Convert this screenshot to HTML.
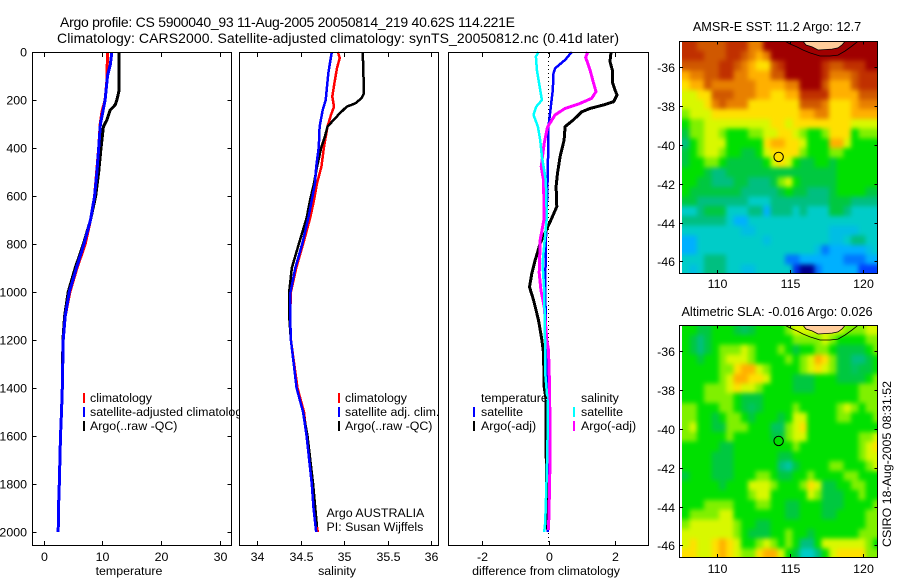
<!DOCTYPE html>
<html lang="en">
<head>
<meta charset="utf-8">
<title>Argo profile CS 5900040_93</title>
<style>
html,body{margin:0;padding:0;background:#fff;width:900px;height:580px;overflow:hidden}
svg{display:block}
text{font-family:"Liberation Sans",sans-serif;font-size:12.4px;fill:#000}
.title{font-size:14px}
.maptitle{font-size:12.7px}
.frame{fill:none;stroke:#000;stroke-width:1;shape-rendering:crispEdges}
</style>
</head>
<body>
<svg id="fig" xmlns="http://www.w3.org/2000/svg" width="900" height="580" viewBox="0 0 900 580">
  <defs>
    <filter id="mapSmooth" filterUnits="userSpaceOnUse" x="640" y="0" width="260" height="580" color-interpolation-filters="sRGB">
      <feGaussianBlur stdDeviation="2.4"/>
    </filter>
  </defs>
  <text class="title" x="60" y="27" textLength="455">Argo profile: CS 5900040_93 11-Aug-2005 20050814_219 40.62S 114.221E</text>
  <text class="title" x="57" y="43" textLength="562">Climatology: CARS2000. Satellite-adjusted climatology: synTS_20050812.nc (0.41d later)</text>
  <g id="p1">
    <rect x="32.5" y="52.5" width="199" height="493" fill="#fff"/>
  </g>
  <g id="p1legend">
    <rect x="83" y="393" width="2" height="10" fill="#f00"/>
    <rect x="83" y="407" width="2" height="10" fill="#00f"/>
    <rect x="83" y="421" width="2" height="10" fill="#000"/>
    <text x="90" y="402">climatology</text>
    <text x="90" y="416">satellite-adjusted climatology</text>
    <text x="90" y="430">Argo(..raw -QC)</text>
  </g>
  <g id="p2">
    <rect x="239.5" y="52.5" width="199" height="493" fill="#fff"/>
  </g>
  <g id="p2legend">
    <rect x="338" y="393" width="2" height="10" fill="#f00"/>
    <rect x="338" y="407" width="2" height="10" fill="#00f"/>
    <rect x="338" y="421" width="2" height="10" fill="#000"/>
    <text x="345" y="402">climatology</text>
    <text x="345" y="416">satellite adj. clim.</text>
    <text x="345" y="430">Argo(..raw -QC)</text>
    <text x="326.5" y="517">Argo AUSTRALIA</text>
    <text x="326.5" y="531">PI: Susan Wijffels</text>
  </g>
  <g id="p3">
    <rect x="448.5" y="52.5" width="200" height="493" fill="#fff"/>
  </g>
  <g id="p3legend">
    <text x="481" y="402">temperature</text>
    <rect x="473" y="407" width="2" height="10" fill="#00f"/>
    <rect x="473" y="421" width="2" height="10" fill="#000"/>
    <text x="481" y="416">satellite</text>
    <text x="481" y="430">Argo(-adj)</text>
    <text x="581" y="402">salinity</text>
    <rect x="573" y="407" width="2" height="10" fill="#0ff"/>
    <rect x="573" y="421" width="2" height="10" fill="#f0f"/>
    <text x="581" y="416">satellite</text>
    <text x="581" y="430">Argo(-adj)</text>
  </g>
  <text x="129" y="575" text-anchor="middle">temperature</text>
  <text x="337" y="575" text-anchor="middle">salinity</text>
  <text x="546" y="575" text-anchor="middle">difference from climatology</text>
  <text class="maptitle" x="777" y="31" text-anchor="middle">AMSR-E SST: 11.2 Argo: 12.7</text>
  <text class="maptitle" x="777" y="316" text-anchor="middle">Altimetric SLA: -0.016 Argo: 0.026</text>
  <g id="m1"></g>
  <g id="m2"></g>
  <text transform="translate(891,547) rotate(-90)">CSIRO 18-Aug-2005 08:31:52</text>
</svg>
<script>
// ---- profile data ----
const tempDepthTicks = [0,200,400,600,800,1000,1200,1400,1600,1800,2000];
const tempTicks = [0,10,20,30];
const salTicks = [34,34.5,35,35.5,36];
const salTickLabels = ['34','34.5','35','35.5','36'];
const diffTicks = [-2,0,2];

const tempClimDepth = [0,120,200,250,300,400,600,700,800,900,1000,1100,1200,1400,1500,1600,1800,1900,2000];
const tempClimValue = [10.9,10.8,10.5,9.95,9.66,9.4,8.7,8.0,7.1,5.7,4.5,3.7,3.35,3.2,3.07,2.9,2.7,2.55,2.5];
const tempSatDepth = [0,50,100,200,250,300,400,500,600,700,800,900,1000,1100,1200,1400,1500,1600,1800,1900,2000];
const tempSatValue = [11.65,11.4,10.9,10.5,10.1,9.7,9.4,9.1,8.7,8.0,6.9,5.6,4.4,3.7,3.35,3.2,3.07,2.9,2.7,2.55,2.5];
const tempArgoDepth = [0,158,200,221,242,283,311,400,500,600,700,800,900,1000,1100,1200,1400,1500,1600,1800,1900,2000];
const tempArgoValue = [12.9,12.9,12.5,12.2,11.36,10.8,10.2,9.8,9.4,8.9,8.0,6.8,5.4,4.2,3.6,3.3,3.2,3.07,2.9,2.7,2.55,2.5];

const salClimDepth = [0,25,67,130,186,228,262,311,395,478,547,617,692,800,900,1000,1100,1200,1400,1500,1600,1800,1900,2000];
const salClimValue = [34.93,34.95,34.92,34.89,34.865,34.885,34.85,34.81,34.77,34.74,34.69,34.655,34.61,34.53,34.45,34.39,34.38,34.39,34.465,34.54,34.57,34.63,34.65,34.7];
const salSatDepth = [0,42,89,200,242,311,395,478,547,617,692,800,900,1000,1100,1200,1400,1500,1600,1800,1900,2000];
const salSatValue = [34.86,34.84,34.82,34.79,34.755,34.72,34.71,34.68,34.667,34.63,34.59,34.52,34.44,34.385,34.38,34.39,34.455,34.53,34.57,34.63,34.65,34.68];
const salArgoDepth = [0,47,172,193,214,228,262,311,353,395,478,547,617,692,800,900,1000,1100,1200,1400,1500,1600,1800,1900,1980];
const salArgoValue = [35.215,35.22,35.23,35.2,35.13,35.03,34.935,34.81,34.78,34.74,34.69,34.655,34.61,34.57,34.48,34.4,34.37,34.37,34.39,34.455,34.53,34.58,34.645,34.67,34.69];

const diffTempSatDepth = [0,33,68,89,158,228,311,500,800,1000,1300,1600,2000];
const diffTempSatValue = [0.7,0.5,0.2,0.15,0.13,0.07,0,-0.02,-0.08,-0.1,-0.05,-0.02,-0.02];
const diffTempArgoDepth = [0,40,75,124,158,179,207,221,235,249,283,311,367,436,505,561,644,692,797,867,921,979,1033,1117,1200,1254,1396,1450,1671,1900,1990];
const diffTempArgoValue = [1.88,1.85,1.92,1.92,2.0,2.06,1.96,1.65,1.25,1.0,0.75,0.5,0.47,0.35,0.27,0.23,0.25,0.1,-0.25,-0.4,-0.5,-0.57,-0.45,-0.3,-0.2,-0.15,-0.13,-0.07,-0.07,-0.05,-0.03];
const diffSalArgoDepth = [0,23,75,117,165,193,214,235,262,313,380,478,533,692,783,921,992,1062,1200,1242,1381,1646,1825,1992];
const diffSalArgoValue = [1.18,1.12,1.25,1.33,1.43,1.3,0.95,0.5,0.2,-0.03,-0.13,-0.22,-0.15,-0.13,-0.25,-0.28,-0.23,-0.13,-0.05,0,0.03,0.05,0.03,0];
const diffSalSatDepth = [0,19,75,158,200,228,262,311,367,436,533,692,880,992,1242,1338,1450,1617,1754,1963,2000];
const diffSalSatValue = [-0.3,-0.38,-0.35,-0.25,-0.2,-0.37,-0.45,-0.32,-0.25,-0.2,-0.08,-0.05,-0.18,-0.13,-0.1,-0.1,-0.03,-0.03,-0.05,-0.1,-0.13];

// ---- map data (colour levels, rows north to south, 0.5 degree cells) ----
const mapLonStart = 107.65;
const mapLatStart = -34.66;
const mapCellDeg = 0.5;
const lonTicks = [110,115,120];
const latTicks = [-36,-38,-40,-42,-44,-46];
const floatLon = 114.221;
const floatLat = -40.62;
const landLon = [115.88,116.09,116.5,116.91,117.45,117.86,118.27,118.54,118.75];
const landLat = [-34.66,-34.85,-34.95,-35.11,-35.08,-35.06,-35.0,-34.85,-34.66];
const contourLon = [114.66,115,115.47,115.88,116.36,117.04,117.72,118.27,118.75,119.22,119.63];
const contourLat = [-34.66,-34.8,-34.95,-35.11,-35.26,-35.42,-35.42,-35.37,-35.16,-34.9,-34.66];

const sstLevels = [
[13,13,12,12,12,12,13,13,13,11,11,14,14,14,14,14,14,14,14,14,14,14,14,14,14,14,14],
[13,13,13,12,12,12,13,13,12,11,10,11,14,14,14,14,14,14,14,14,14,14,14,14,14,14,14],
[12,12,12,12,12,13,13,12,11,10,9,9,12,13,14,14,14,14,14,13,12,12,13,13,13,14,14],
[10,11,11,12,12,13,13,11,11,10,10,10,12,12,14,14,14,14,14,13,11,11,11,12,13,13,13],
[9,10,10,12,11,11,11,11,11,11,10,10,10,10,11,11,14,14,14,12,10,10,10,12,13,13,13],
[8,8,9,9,12,12,12,11,11,11,10,10,9,9,10,10,13,13,13,13,10,10,10,10,12,12,12],
[8,8,8,9,11,12,11,11,11,9,9,9,9,9,9,9,12,12,12,11,9,9,9,10,11,11,11],
[7,8,8,8,9,9,9,9,9,9,9,9,9,9,9,9,10,10,11,11,9,9,9,10,10,10,10],
[6,7,7,8,8,8,8,8,8,8,8,8,9,9,8,9,9,9,9,9,9,9,9,8,8,8,8],
[5,7,7,8,8,7,6,6,6,7,7,8,8,9,9,8,7,6,6,7,9,9,9,6,7,7,7],
[4,6,7,8,8,8,6,6,6,6,6,9,10,10,9,9,8,6,6,6,10,10,8,6,6,6,6],
[5,6,7,8,8,7,6,6,5,5,6,8,9,9,9,9,7,6,6,6,7,7,6,6,6,6,6],
[5,6,6,7,7,6,5,5,5,5,5,6,8,9,8,6,5,5,6,6,5,6,6,6,6,6,6],
[6,6,6,5,4,4,5,5,5,5,5,5,5,5,5,5,5,5,5,5,5,6,6,6,6,6,6],
[6,6,5,5,4,4,4,5,5,4,4,4,5,7,8,6,5,5,5,5,5,6,6,6,6,6,6],
[6,5,5,5,5,5,5,5,4,4,4,4,4,5,6,5,5,4,4,4,5,6,6,6,6,5,5],
[5,5,4,4,4,4,4,4,4,3,3,3,4,4,4,4,4,4,4,4,5,5,5,4,4,4,4],
[3,3,4,5,5,5,3,3,3,4,4,2,4,4,4,3,4,3,3,3,5,5,4,3,3,3,3],
[4,4,4,4,4,4,3,2,2,3,3,3,3,3,3,3,3,3,3,3,3,3,3,3,3,3,3],
[3,3,3,3,3,3,3,3,2.5,2.5,3,3,3,3,3,3,3,3,3,3,2.5,2.5,2.5,2.5,3,3,3],
[2,2,3,3,3,3,3,3,3,3,3,2.5,3,3,3,3,3,3,3,3,2.5,2.5,3,4,4,3,3],
[2,2,3,3,3,3,3,3,3,3,3,3,3,3,3,3,3,3,2.5,1.5,2,2,2,2,2,2.5,3],
[3,3,3,4,4,4,3,3,3,3,3,3,3,3,1.5,1.5,2,2,2,2,2,2,1.5,1.5,1.5,2,2],
[3,2.5,3,4,4,4,3,3,2.5,2.5,3,3,3,3,3,0.8,0,0,1.5,2,2,2,2,2,1,1,1]
];
const slaLevels = [
[6,6,5,5,6,6,6,5,4.5,5,6,6,6,6,7,8,8,8,8,8,8,8,7,7,7,8,8],
[6,5,4,5,6,6,6,6,6,6,6,6,6,6,6,7,7,7,7,8,7,6,6,6,6,7,7],
[6,5,4,5,6,7,7,7,8,7,6,6,6,7,6,5,6,6,7,7,6,5,5,5,5,6,7],
[6,6,5,6,6,7,8,8,8,7,6,6,6,6,7,6,7,8,10,9,7,5,5,4,4,5,6],
[6,6,6,6,6,7,7,9,10,10,8,7,6,6,6,6,7,8,9,8,7,5,5,4.5,5,5,6],
[6,6,6,6,6,7,8,10,10,9,9,8,6,6,6,5,5,5,6,6,6,5,5,5,5,6,7],
[6,6,6,7,7,7,8,9,8,8,7,6,6,6,6,5,5,5,6,6,6,6,6,6,7,7,7],
[6,6,6,7,7,7,7,6,5,5,5,6,6,6,6,6,6,6,6,6,6,6,6,6,7,7,7],
[7,7,6,6,6,7,7,6,5,4.5,5,6,6,6,6,7,6,6,6,6,6,7,8,7,6,7,7],
[7,7,6,6,5,6,7,7,6,5,6,6,6,5,6,8,8,6,6,6,6,7,7,6,6,6,7],
[7,8,6,6,5,5,7,7,7,6,6,6,4.5,4.5,7,8,9,6,6,6,6,6,6,6,6,6,6],
[7,7,6,6,6,6,7,6,6,6,6,6,5,5,7,8,8,6,6,6,6,6,6,6,7,7,8],
[6,6,6,6,6,5,5,6,6,6,6,6,6,6,6,7,6,6,6,6,6,6,6,6,7,8,9],
[6,6,6,6,5,5,5,6,6,6,6,6,6,5,5,6,6,6,6,6,6,6,6,6,7,8,8],
[6,6,6,6,5,5,5,6,6,6,6,6,6,4,3.5,5,6,6,6,6,7,7,6,6,6,7,8],
[5,6,6,6,5,5,5,6,6,6,7,7,6,5,5,6,6,7,6,6,6,6,7,7,6,6,6],
[6,6,6,6,6,5,6,6,6,8,8,8,7,6,6,6,7,9,8,5,5,6,6,7,7,6,6],
[6,6,6,6,6,6,6,6,6,7,8,8,6,6,6,6,6,8,7,5,5,5,6,6,7,6,6],
[6,6,6,7,7,7,7,6,6,6,7,7,6,6,5,5,6,6,6,5,5,5,6,6,6,6,7],
[6,7,7,7,7,8,8,6,6,6,6,6,6,6,5,5,6,6,6,5,5,6,6,6,6,7,7],
[7,8,8,8,8,8,8,7,6,6,5,5,6,6,6,6,6,6,6,6,6,6,6,6,6,7,7],
[8,8,8,8,8,8,8,7,6,5,5,5,6,6,7,6,6,5,6,6,6,6,6,6,7,7,7],
[8,9,8,8,9,10,9,8,6,6,7,8,7,6,7,6,4,4,6,8,8,8,8,8,8,7,6],
[9,9,8,8,9,10,9,8,7,7,9,10,10,8,6,5,3,3,4,6,8,9,9,9,9,7,7]
];

// ---- rendering ----
const NS = 'http://www.w3.org/2000/svg';
const palette = ['#000090','#0040ff','#00b0ff','#00ccc8','#00bf80','#00c840','#00e000','#80f000','#d8f800','#ffe000','#ffb000','#e88000','#d05800','#c03000','#a00000'];
function levelColor(v){
  const i = Math.max(0, Math.min(palette.length-1, v));
  const a = Math.floor(i), b = Math.min(palette.length-1, a+1), f = i-a;
  const pa = parseInt(palette[a].slice(1),16), pb = parseInt(palette[b].slice(1),16);
  const mix = s => Math.round(((pa>>s)&255)*(1-f)+((pb>>s)&255)*f);
  return 'rgb('+mix(16)+','+mix(8)+','+mix(0)+')';
}
function make(parent, tag, attrs, txt){
  const e = document.createElementNS(NS, tag);
  for (const k in attrs) e.setAttribute(k, attrs[k]);
  if (txt !== undefined) e.textContent = txt;
  parent.appendChild(e);
  return e;
}
const depthY = d => 52 + d*0.24;
const xTemp = v => 43.5 + v*5.87;
const xSal = v => 257 + (v-34)*87;
const xDiff = v => 548.5 + v*33.25;

function profile(parent, xf, depths, values, color, width, name){
  const pts = depths.map((d,i) => xf(values[i]).toFixed(1)+','+depthY(d).toFixed(1)).join(' ');
  const line = make(parent, 'polyline', {points:pts, fill:'none', stroke:color, 'stroke-width':width, 'stroke-linejoin':'round', 'shape-rendering':'crispEdges'});
  
  
}
function panelAxes(parent, x0, x1, xf, ticks, labels, withDepth, name){
  const g = make(parent, 'g', {});
  
  
  ticks.forEach((t,i) => {
    const x = Math.round(xf(t))+0.5;
    const tk = make(g, 'path', {d:'M'+x+' 53V57M'+x+' 545V541', stroke:'#000', fill:'none', 'shape-rendering':'crispEdges'});
    
    
    const lb = make(g, 'text', {x:x, y:561, 'text-anchor':'middle'}, labels[i]);
    
    
  });
  if (withDepth) tempDepthTicks.forEach(d => {
    const y = Math.round(depthY(d))+0.5;
    const tk = make(g, 'path', {d:'M'+x0+' '+y+'H'+(x0+4)+'M'+x1+' '+y+'H'+(x1-4), stroke:'#000', fill:'none', 'shape-rendering':'crispEdges'});
    
    
    const lb = make(g, 'text', {x:27, y:y+4, 'text-anchor':'end'}, String(d));
    
    
  });
  const fr = make(g, 'rect', {x:x0, y:52.5, width:x1-x0, height:493, class:'frame'});
  
  
}

const p1 = document.getElementById('p1');
profile(p1, xTemp, tempClimDepth, tempClimValue, '#f00', 3, 'temperature-climatology-line');
profile(p1, xTemp, tempArgoDepth, tempArgoValue, '#000', 3, 'temperature-argo-line');
profile(p1, xTemp, tempSatDepth, tempSatValue, '#00f', 3, 'temperature-satellite-line');
panelAxes(p1, 32.5, 231.5, xTemp, tempTicks, tempTicks.map(String), true, 'temperature');

const p2 = document.getElementById('p2');
profile(p2, xSal, salClimDepth, salClimValue, '#f00', 2.5, 'salinity-climatology-line');
profile(p2, xSal, salArgoDepth, salArgoValue, '#000', 2.5, 'salinity-argo-line');
profile(p2, xSal, salSatDepth, salSatValue, '#00f', 2.5, 'salinity-satellite-line');
panelAxes(p2, 239.5, 438.5, xSal, salTicks, salTickLabels, false, 'salinity');

const p3 = document.getElementById('p3');
const zero = make(p3, 'line', {x1:xDiff(0), x2:xDiff(0), y1:53, y2:545, stroke:'#000', 'stroke-dasharray':'1 3', 'shape-rendering':'crispEdges'});


profile(p3, xDiff, diffTempSatDepth, diffTempSatValue, '#00f', 2.5, 'difference-temp-satellite-line');
profile(p3, xDiff, diffTempArgoDepth, diffTempArgoValue, '#000', 3, 'difference-temp-argo-line');
profile(p3, xDiff, diffSalArgoDepth, diffSalArgoValue, '#f0f', 3, 'difference-sal-argo-line');
profile(p3, xDiff, diffSalSatDepth, diffSalSatValue, '#0ff', 2.5, 'difference-sal-satellite-line');
panelAxes(p3, 448.5, 648.5, xDiff, diffTicks, diffTicks.map(String), false, 'difference');

function drawMap(id, levels, top, markerLevel, name, labelY){
  const g = document.getElementById(id);
  const lonX = lon => 716.7 + (lon-110)*14.67;
  const latY = lat => top + 26 + (-36-lat)*19.4;
  const bottom = top + 231.7;
  const clip = make(g, 'clipPath', {id:id+'clip'});
  make(clip, 'rect', {x:682, y:top, width:195.5, height:231.7});
  const clipped = make(g, 'g', {'clip-path':'url(#'+id+'clip)'});
  
  
  const cells = make(clipped, 'g', {filter:'url(#mapSmooth)'});
  
  
  const pad = 14;
  levels.forEach((row,r) => row.forEach((v,c) => {
    const lon = mapLonStart + c*mapCellDeg, lat = mapLatStart - r*mapCellDeg;
    // edge cells are extended past the clip so smoothing does not fade at the borders
    const extL = c===0 ? pad : 0, extR = c===row.length-1 ? pad : 0;
    const extT = r===0 ? pad : 0, extB = r===levels.length-1 ? pad : 0;
    const cell = make(cells, 'rect', {
      x:(lonX(lon)-extL).toFixed(2), y:(latY(lat)-extT).toFixed(2),
      width:(mapCellDeg*14.67+0.4+extL+extR).toFixed(2), height:(mapCellDeg*19.4+0.4+extT+extB).toFixed(2),
      fill:levelColor(v), 'shape-rendering':'crispEdges'});
    
    
  }));
  const land = make(clipped, 'polygon', {points:landLon.map((l,i)=>lonX(l).toFixed(1)+','+latY(landLat[i]).toFixed(1)).join(' '), fill:'#ffcc99', stroke:'#000', 'stroke-width':0.8});
  
  
  const cont = make(clipped, 'polyline', {points:contourLon.map((l,i)=>lonX(l).toFixed(1)+','+latY(contourLat[i]).toFixed(1)).join(' '), fill:'none', stroke:'#000', 'stroke-width':0.8});
  
  
  const marker = make(g, 'circle', {cx:lonX(floatLon), cy:latY(floatLat), r:4.7, fill:levelColor(markerLevel), stroke:'#000', 'stroke-width':1});
  
  
  lonTicks.forEach(t => {
    const x = Math.round(lonX(t))+0.5;
    const tk = make(g, 'path', {d:'M'+x+' '+top+'v3M'+x+' '+bottom+'v-3', stroke:'#000', fill:'none', 'shape-rendering':'crispEdges'});
    
    
    const lb = make(g, 'text', {x:x, y:labelY, 'text-anchor':'middle'}, String(t));
    
    
  });
  latTicks.forEach(t => {
    const y = Math.round(latY(t))+0.5;
    const tk = make(g, 'path', {d:'M680 '+y+'h3M877.5 '+y+'h-3', stroke:'#000', fill:'none', 'shape-rendering':'crispEdges'});
    
    
    const lb = make(g, 'text', {x:675, y:y+4.5, 'text-anchor':'end'}, String(t));
    
    
  });
  const fr = make(g, 'rect', {x:679.5, y:Math.round(top)+0.5, width:198, height:232, class:'frame'});
  
  
}
drawMap('m1', sstLevels, 41.3, 9, 'sst-map', 288);
drawMap('m2', slaLevels, 325.3, 6, 'sla-map', 573);
</script>
</body>
</html>
